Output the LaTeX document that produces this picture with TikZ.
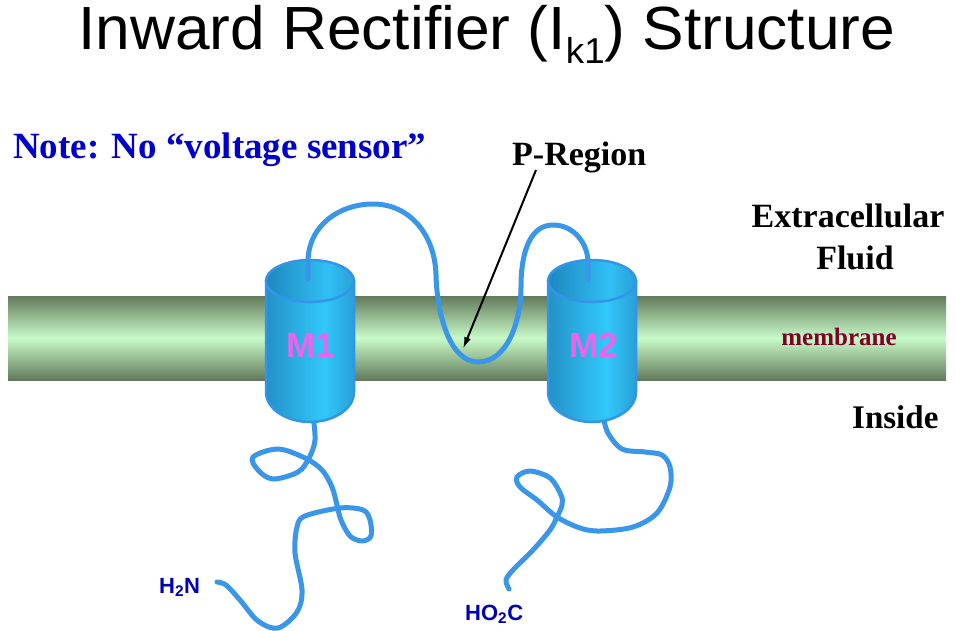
\documentclass[tikz,border=0pt]{standalone}
\usepackage{fontspec}
\setmainfont{Liberation Serif}
\newfontfamily\arial{Liberation Sans}
\usetikzlibrary{arrows.meta}
\definecolor{memdark}{RGB}{98,122,92}
\definecolor{memlight}{RGB}{200,250,200}
\definecolor{cylA}{RGB}{35,145,200}
\definecolor{cylB}{RGB}{50,200,250}
\definecolor{cylC}{RGB}{40,160,215}
\definecolor{cyltopA}{RGB}{30,135,190}
\definecolor{cyltopB}{RGB}{48,192,245}
\definecolor{cylline}{RGB}{50,150,232}
\definecolor{strandc}{RGB}{58,150,232}
\definecolor{noteblue}{RGB}{0,0,205}
\definecolor{memred}{RGB}{128,0,40}
\definecolor{mpink}{RGB}{235,100,235}
\definecolor{termblue}{RGB}{0,0,180}
\pgfdeclarehorizontalshading{cylshade}{100bp}{color(0bp)=(cylA); color(25bp)=(cylA); color(58bp)=(cylB); color(75bp)=(cylC); color(100bp)=(cylC)}
\pgfdeclarehorizontalshading{topshade}{100bp}{color(0bp)=(cyltopA); color(25bp)=(cyltopA); color(60bp)=(cyltopB); color(75bp)=(cylC); color(100bp)=(cylC)}
\newcommand\kcyl[1]{%
  \shadedraw[shading=cylshade, draw=cylline, line width=2.5pt]
    (#1-44,281) -- (#1-44,392) .. controls (#1-44,410) and (#1-22,422) .. (#1,422)
    .. controls (#1+22,422) and (#1+44,410) .. (#1+44,392) -- (#1+44,281) -- cycle;
  \shadedraw[shading=topshade, draw=cylline, line width=2.5pt] (#1,281) ellipse (44 and 21);
}
\tikzset{
  strand/.style={draw=strandc, line width=5pt, line cap=round, line join=round},
  lbl/.style={inner sep=0pt, font=\bfseries},
  mlbl/.style={inner sep=0pt, text=mpink, font=\arial\bfseries\fontsize{35}{36}\selectfont},
  term/.style={inner sep=0pt, text=termblue, font=\arial\bfseries\fontsize{22}{23}\selectfont}
}
\begin{document}
\begin{tikzpicture}[x=1pt,y=-1pt]
\useasboundingbox (0,0) rectangle (956,630);
\fill[white] (0,0) rectangle (956,630);

% title
\node[anchor=base west, inner sep=0pt] (title) at (78,49)
  {\resizebox{817pt}{\height}{\arial\fontsize{61}{62}\selectfont Inward Rectifier (I\raisebox{-14pt}{\fontsize{36}{37}\selectfont k1}) Structure}};

% note
\node[lbl, anchor=base west, text=noteblue, font=\bfseries\fontsize{37}{38}\selectfont] (note) at (13,158) {Note: No “voltage sensor”};

% membrane
\shade[top color=memdark, bottom color=memdark, middle color=memlight] (8,296) rectangle (946,380);
\node[lbl, anchor=base, text=memred, font=\bfseries\fontsize{25}{26}\selectfont] (mem) at (839,345) {membrane};

% side labels
\node[lbl, anchor=base, font=\bfseries\fontsize{34}{35}\selectfont] (extra) at (848,227) {Extracellular};
\node[lbl, anchor=base, font=\bfseries\fontsize{34}{35}\selectfont] (fluid) at (855,269) {Fluid};
\node[lbl, anchor=base west, font=\bfseries\fontsize{33}{34}\selectfont] (inside) at (852,428) {Inside};
\node[lbl, anchor=base west, font=\bfseries\fontsize{34}{35}\selectfont] (preg) at (512,165) {P-Region};

% tails (under cylinders)
\draw[strand] plot[smooth, tension=0.55] coordinates {
 (313,416) (315,440) (309,458) (298,472) (273,479) (258,470) (253,457) (278,449) (305,458)
 (322,470) (332,487) (337,505) (341,520) (350,536) (362,541) (371,536) (370,520) (363,510)
 (340,508) (305,516) (297,527) (295,553) (302,590) (297,612) (278,628) (258,621) (240,600)
 (226,585) (217,582)};
\draw[strand] plot[smooth, tension=0.55] coordinates {
 (603,416) (608,433) (622,449) (645,452) (662,455) (670,467) (670,487) (657,513) (633,527)
 (600,531) (580,528) (557,517) (537,500) (520,487) (517,477) (530,471) (550,478) (561,495)
 (562,505) (557,517) (550,530) (533,550) (513,570) (506,580) (509,589)};

% cylinders
\kcyl{310}
\kcyl{592}
\node[mlbl, anchor=base] (m1) at (311,357) {M1};
\node[mlbl, anchor=base] (m2) at (594,357) {M2};

% extracellular loop with P-region
\coordinate (m1top) at (308,279);
\coordinate (m2top) at (588,279);
\draw[strand] (m1top) -- (308,262) .. controls (308,225) and (340,204) .. (373,204)
  .. controls (410,204) and (435,235) .. (436,275)
  .. controls (437,315) and (450,362) .. (478,362)
  .. controls (508,362) and (521,320) .. (521,287)
  .. controls (521,248) and (532,225) .. (553,225)
  .. controls (575,225) and (588,245) .. (588,262) -- (m2top);

% arrow
\coordinate (atail) at (536,170);
\coordinate (ahead) at (463,349);
\draw[line width=2pt, -{Latex[length=12pt,width=7pt]}] (atail) -- (ahead);

% termini
\node[term, anchor=base west] (nterm) at (159,593) {H\textsubscript{2}N};
\node[term, anchor=base west] (cterm) at (465,620) {HO\textsubscript{2}C};
\end{tikzpicture}
\end{document}
